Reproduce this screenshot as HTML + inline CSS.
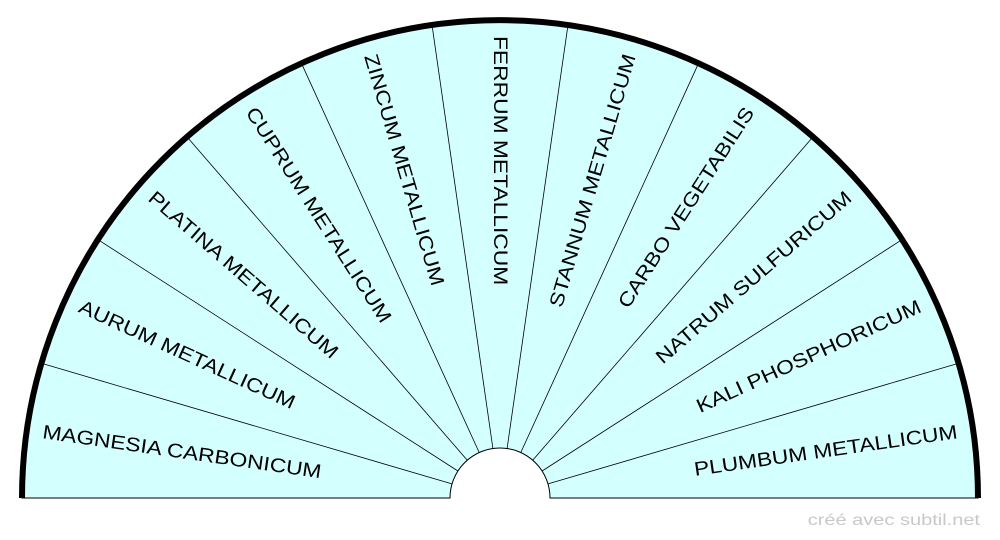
<!DOCTYPE html>
<html><head><meta charset="utf-8"><style>
html,body{margin:0;padding:0;background:#fff;width:1000px;height:540px;overflow:hidden}
</style></head><body>
<svg width="1000" height="540" xmlns="http://www.w3.org/2000/svg" font-family="Liberation Sans, sans-serif">
<path d="M22,498 A478,478 0 0 1 978,498 L550,498 A50,50 0 0 0 450,498 Z" fill="#d4ffff" stroke="#000" stroke-width="1"/>
<g stroke="#000" stroke-width="0.8">
<line x1="452.0" y1="483.9" x2="41.4" y2="363.3"/>
<line x1="457.9" y1="471.0" x2="97.9" y2="239.6"/>
<line x1="467.3" y1="460.2" x2="186.9" y2="136.8"/>
<line x1="479.2" y1="452.5" x2="301.4" y2="63.2"/>
<line x1="492.9" y1="448.5" x2="432.0" y2="24.9"/>
<line x1="507.1" y1="448.5" x2="568.0" y2="24.9"/>
<line x1="520.8" y1="452.5" x2="698.6" y2="63.2"/>
<line x1="532.7" y1="460.2" x2="813.1" y2="136.8"/>
<line x1="542.1" y1="471.0" x2="902.1" y2="239.6"/>
<line x1="548.0" y1="483.9" x2="958.6" y2="363.3"/>
</g>
<g font-size="19.5" fill="#000">
<text x="0" y="0" dominant-baseline="central" transform="translate(42.7 432.2) rotate(8.182) scale(1.17 1)">MAGNESIA CARBONICUM</text>
<text x="0" y="0" dominant-baseline="central" transform="translate(79.8 306.1) rotate(24.545) scale(1.17 1)">AURUM METALLICUM</text>
<text x="0" y="0" dominant-baseline="central" transform="translate(150.9 195.4) rotate(40.909) scale(1.17 1)">PLATINA METALLICUM</text>
<text x="0" y="0" dominant-baseline="central" transform="translate(250.2 109.3) rotate(57.273) scale(1.17 1)">CUPRUM METALLICUM</text>
<text x="0" y="0" dominant-baseline="central" transform="translate(369.9 54.7) rotate(73.636) scale(1.17 1)">ZINCUM METALLICUM</text>
<text x="0" y="0" dominant-baseline="central" transform="translate(500 36) rotate(90) scale(1.17 1)">FERRUM METALLICUM</text>
<text x="0" y="0" text-anchor="end" dominant-baseline="central" transform="translate(630.1 54.7) rotate(-73.636) scale(1.17 1)">STANNUM METALLICUM</text>
<text x="0" y="0" text-anchor="end" dominant-baseline="central" transform="translate(749.8 109.3) rotate(-57.273) scale(1.17 1)">CARBO VEGETABILIS</text>
<text x="0" y="0" text-anchor="end" dominant-baseline="central" transform="translate(849.1 195.4) rotate(-40.909) scale(1.17 1)">NATRUM SULFURICUM</text>
<text x="0" y="0" text-anchor="end" dominant-baseline="central" transform="translate(920.2 306.1) rotate(-24.545) scale(1.17 1)">KALI PHOSPHORICUM</text>
<text x="0" y="0" text-anchor="end" dominant-baseline="central" transform="translate(957.3 432.2) rotate(-8.182) scale(1.17 1)">PLUMBUM METALLICUM</text>
</g>
<path d="M22,498 A478,478 0 0 1 978,498" fill="none" stroke="#000" stroke-width="6"/>
<text x="0" y="0" font-size="16" fill="#c8c8c8" text-anchor="end" transform="translate(980 525) scale(1.25 1)">créé avec subtil.net</text>
</svg>
</body></html>
